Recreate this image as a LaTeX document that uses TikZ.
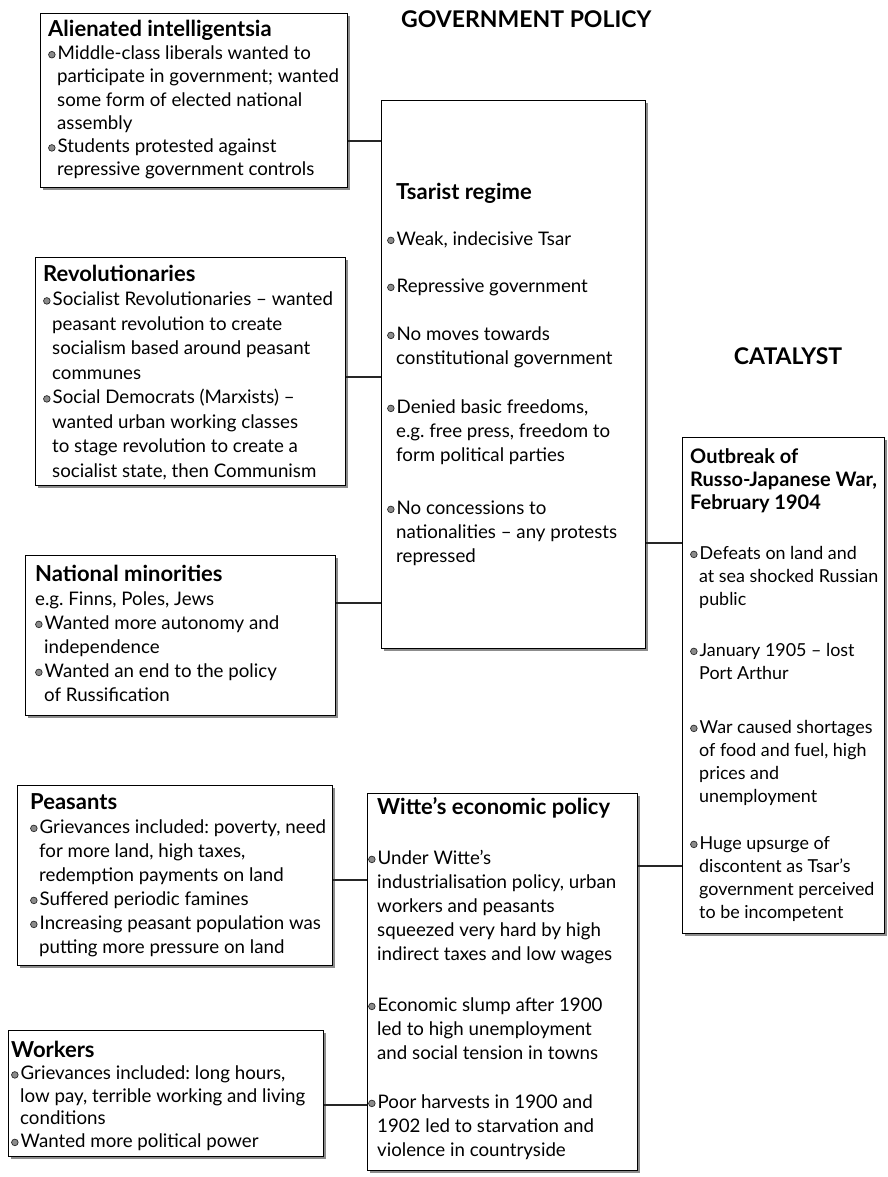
\documentclass[tikz,border=0pt]{standalone}
\usepackage{fontspec}
\setmainfont{Lato}
\usetikzlibrary{shadows}
\frenchspacing
\newcommand{\bul}{\makebox[9.5pt][l]{\tikz[baseline=-4.8pt]\filldraw[fill=black!45,draw=black!85,line width=0.7pt] (0pt,0pt) circle (3.3pt);}}
\newcommand{\ci}{\hspace*{9pt}}
\newcommand{\fs}{\rule{0pt}{18pt}}
\newcommand{\ttl}[1]{{\fontsize{22}{24}\selectfont\bfseries #1}}
\newcommand{\ttlo}[1]{{\fontsize{20}{23}\selectfont\bfseries #1}}
\tikzset{
  box/.style={draw=black, line width=0.9pt, fill=white, inner sep=0pt, anchor=north west,
    drop shadow={shadow xshift=2.5pt, shadow yshift=-2.5pt, fill=black!45, opacity=1}},
  txt/.style={anchor=north west, inner sep=0pt, align=left},
  link/.style={line width=1.6pt, draw=black!85},
  head/.style={inner sep=0pt, font=\fontsize{23}{26}\selectfont\bfseries}
}
\begin{document}
\begin{tikzpicture}[x=1pt,y=1pt]
\useasboundingbox (0,0) rectangle (888,-1177);
\fill[white] (0,0) rectangle (888,-1177);

\node[head, anchor=west] (gp) at (401,-19.5) {GOVERNMENT POLICY};
\node[head, anchor=center] (cat) at (788,-356) {CATALYST};

\node[box, minimum width=307pt, minimum height=174pt] (A) at (40,-13) {};
\node[box, minimum width=310pt, minimum height=228pt] (B) at (35,-257) {};
\node[box, minimum width=310pt, minimum height=160pt] (C) at (25,-555) {};
\node[box, minimum width=264pt, minimum height=548pt] (T) at (381,-100) {};
\node[box, minimum width=202pt, minimum height=496pt] (O) at (682,-437) {};
\node[box, minimum width=315pt, minimum height=180pt] (P) at (17,-785) {};
\node[box, minimum width=270pt, minimum height=377pt] (W) at (367,-793) {};
\node[box, minimum width=315pt, minimum height=126pt] (K) at (8,-1030) {};

\coordinate (yA) at (0,-141);
\coordinate (yB) at (0,-377);
\coordinate (yC) at (0,-603);
\coordinate (yT) at (0,-543);
\coordinate (yP) at (0,-880);
\coordinate (yW) at (0,-866);
\coordinate (yK) at (0,-1105);
\draw[link] (A.east |- yA) -- (T.west |- yA);
\draw[link] (B.east |- yB) -- (T.west |- yB);
\draw[link] (C.east |- yC) -- (T.west |- yC);
\draw[link] (T.east |- yT) -- (O.west |- yT);
\draw[link] (P.east |- yP) -- (W.west |- yP);
\draw[link] (W.east |- yW) -- (O.west |- yW);
\draw[link] (K.east |- yK) -- (W.west |- yK);

\node[txt, font=\fontsize{18.7}{23.3}\selectfont] (tA) at (48,-18) {\fs\ttl{Alienated intelligentsia}\\
\bul Middle-class liberals wanted to\\
\ci participate in government; wanted\\
\ci some form of elected national\\
\ci assembly\\
\bul Students protested against\\
\ci repressive government controls};

\node[txt, font=\fontsize{18.7}{24.5}\selectfont] (tB) at (43,-263) {\fs\ttl{Revolutionaries}\\
\bul Socialist Revolutionaries – wanted\\
\ci peasant revolution to create\\
\ci socialism based around peasant\\
\ci communes\\
\bul Social Democrats (Marxists) –\\
\ci wanted urban working classes\\
\ci to stage revolution to create a\\
\ci socialist state, then Communism};

\node[txt, font=\fontsize{18.7}{24}\selectfont] (tC) at (35,-563) {\fs\ttl{National minorities}\\
e.g. Finns, Poles, Jews\\
\bul Wanted more autonomy and\\
\ci independence\\
\bul Wanted an end to the policy\\
\ci of Russification};

\node[txt, font=\fontsize{18.7}{24}\selectfont] (tT) at (387,-181) {\fs\ci\ttl{Tsarist regime}\\[22pt]
\bul Weak, indecisive Tsar\\[23pt]
\bul Repressive government\\[24pt]
\bul No moves towards\\
\ci constitutional government\\[25pt]
\bul Denied basic freedoms,\\
\ci e.g. free press, freedom to\\
\ci form political parties\\[29pt]
\bul No concessions to\\
\ci nationalities – any protests\\
\ci repressed};

\node[txt, font=\fontsize{17.9}{23}\selectfont] (tO) at (690,-445) {\fs\ttlo{Outbreak of}\\
\ttlo{Russo-Japanese War,}\\
\ttlo{February 1904}\\[27pt]
\bul Defeats on land and\\
\ci at sea shocked Russian\\
\ci public\\[28pt]
\bul January 1905 – lost\\
\ci Port Arthur\\[31pt]
\bul War caused shortages\\
\ci of food and fuel, high\\
\ci prices and\\
\ci unemployment\\[24pt]
\bul Huge upsurge of\\
\ci discontent as Tsar's\\
\ci government perceived\\
\ci to be incompetent};

\node[txt, font=\fontsize{18.7}{24}\selectfont] (tP) at (30,-791) {\fs\ttl{Peasants}\\
\bul Grievances included: poverty, need\\
\ci for more land, high taxes,\\
\ci redemption payments on land\\
\bul Suffered periodic famines\\
\bul Increasing peasant population was\\
\ci putting more pressure on land};

\node[txt, font=\fontsize{18.7}{24}\selectfont] (tW) at (368,-796) {\fs\ci\ttl{Witte's economic policy}\\[26pt]
\bul Under Witte's\\
\ci industrialisation policy, urban\\
\ci workers and peasants\\
\ci squeezed very hard by high\\
\ci indirect taxes and low wages\\[27pt]
\bul Economic slump after 1900\\
\ci led to high unemployment\\
\ci and social tension in towns\\[25pt]
\bul Poor harvests in 1900 and\\
\ci 1902 led to starvation and\\
\ci violence in countryside};

\node[txt, font=\fontsize{18.7}{22.5}\selectfont] (tK) at (11,-1039) {\fs\ttl{Workers}\\
\bul Grievances included: long hours,\\
\ci low pay, terrible working and living\\
\ci conditions\\
\bul Wanted more political power};
\end{tikzpicture}
\end{document}
